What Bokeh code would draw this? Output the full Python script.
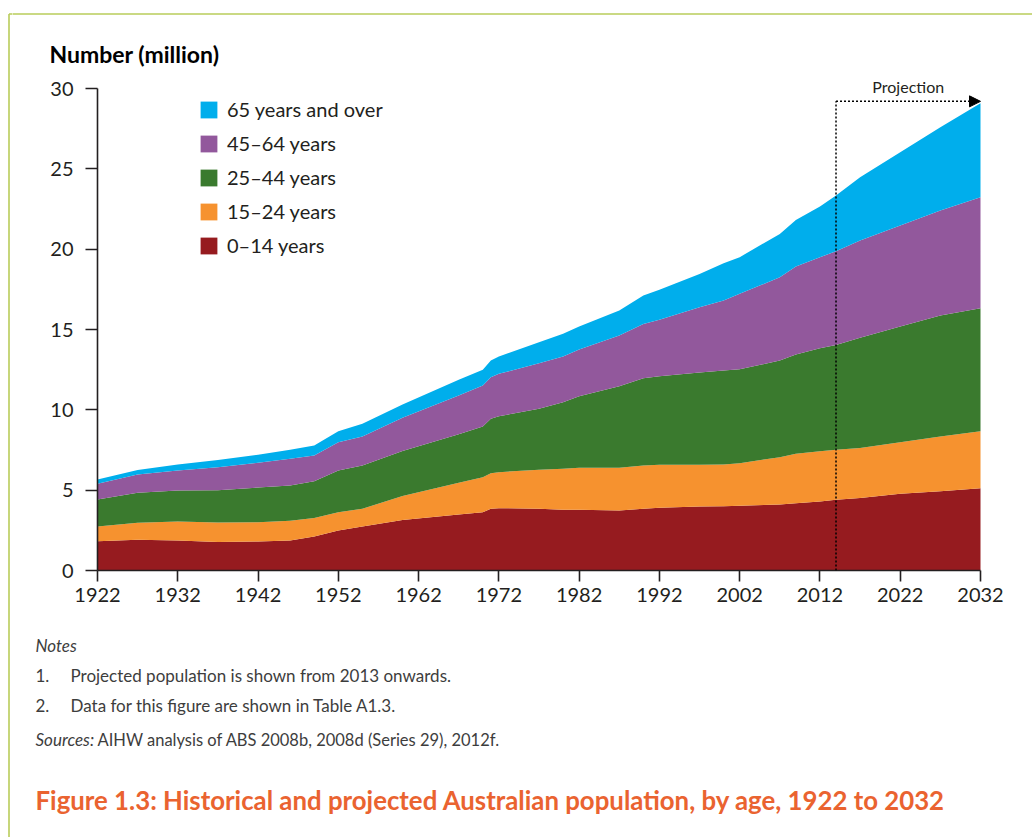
from bokeh.plotting import figure
from bokeh.layouts import row, column
from bokeh.models import (Range1d, FixedTicker, Legend, LegendItem, Label, Arrow,
                          NormalHead, ColumnDataSource)
from bokeh.embed import file_html
from bokeh.resources import INLINE

# ---------------- data (million persons) ----------------
years = [1922, 1927, 1932, 1937, 1942, 1946, 1949, 1952, 1955, 1960, 1967, 1970,
         1971, 1972, 1977, 1980, 1982, 1987, 1990, 1992, 1997, 2000, 2002, 2007,
         2009, 2012, 2014, 2017, 2022, 2027, 2032]
age_0_14 = [1.82, 1.91, 1.87, 1.78, 1.80, 1.87, 2.12, 2.49, 2.74, 3.15, 3.48, 3.63,
            3.84, 3.88, 3.84, 3.78, 3.78, 3.73, 3.84, 3.90, 3.98, 4.00, 4.03, 4.11,
            4.19, 4.29, 4.40, 4.52, 4.77, 4.94, 5.12]
age_15_24 = [0.92, 1.06, 1.18, 1.21, 1.21, 1.22, 1.14, 1.14, 1.10, 1.48, 1.98, 2.18,
             2.22, 2.24, 2.43, 2.55, 2.61, 2.66, 2.69, 2.68, 2.60, 2.60, 2.65, 2.94,
             3.07, 3.13, 3.11, 3.11, 3.21, 3.40, 3.55]
age_25_44 = [1.68, 1.87, 1.93, 2.01, 2.15, 2.20, 2.30, 2.59, 2.69, 2.80, 3.02, 3.15,
             3.38, 3.48, 3.79, 4.14, 4.46, 5.08, 5.44, 5.51, 5.74, 5.85, 5.84, 6.02,
             6.18, 6.41, 6.53, 6.85, 7.20, 7.53, 7.65]
age_45_64 = [0.98, 1.13, 1.24, 1.43, 1.54, 1.66, 1.60, 1.76, 1.81, 2.07, 2.41, 2.55,
             2.59, 2.64, 2.84, 2.85, 2.90, 3.15, 3.38, 3.51, 4.06, 4.35, 4.70, 5.18,
             5.48, 5.67, 5.83, 6.06, 6.29, 6.53, 6.91]
age_65_plus = [0.26, 0.28, 0.38, 0.44, 0.50, 0.56, 0.62, 0.69, 0.79, 0.83, 0.98, 0.98,
               1.04, 1.08, 1.31, 1.41, 1.43, 1.56, 1.76, 1.87, 2.08, 2.33, 2.28, 2.70,
               2.90, 3.15, 3.47, 3.93, 4.56, 5.19, 5.85]

series_keys = ["a0_14", "a15_24", "a25_44", "a45_64", "a65"]
series_labels = ["0\u201314 years", "15\u201324 years", "25\u201344 years",
                 "45\u201364 years", "65 years and over"]
series_colors = ["#961b1f", "#f6922f", "#3a7a2e", "#92589c", "#00aeec"]

x_ticks = list(range(1922, 2033, 10))
y_ticks = [0, 5, 10, 15, 20, 25, 30]
projection_start = 2014
projection_top = 29.2

src = ColumnDataSource(dict(year=years, a0_14=age_0_14, a15_24=age_15_24,
                            a25_44=age_25_44, a45_64=age_45_64, a65=age_65_plus))

FONT = "Lato"
TEXT = "#231f20"
NOTE = "#3d3d3d"
BORDER = "#b9cc5a"
TITLE_COLOR = "#ea6330"
BASE_SHIFT = 7        # correction between wanted baseline and drawn baseline

PAGE_W, PAGE_H = 1032, 837
STRIP_W = 12          # left strip holding the frame border
HEAD_H = 70           # header band
MAIN_H = 560          # chart band
FOOT_H = PAGE_H - HEAD_H - MAIN_H
CONTENT_W = PAGE_W - STRIP_W

# chart frame geometry in page pixels
FR_LEFT, FR_RIGHT_AXIS, FR_TOP, FR_BOTTOM_AXIS = 97, 980, 88, 570
px_per_year = (FR_RIGHT_AXIS - FR_LEFT) / (x_ticks[-1] - x_ticks[0])
px_per_unit = (FR_BOTTOM_AXIS - FR_TOP) / (y_ticks[-1] - y_ticks[0])


def no_align(f):
    try:
        f.frame_align = False
    except Exception:
        pass
    return f


def blank(width, height, xr, yr):
    f = figure(width=width, height=height, output_backend="svg", toolbar_location=None,
               x_range=Range1d(*xr), y_range=Range1d(*yr),
               x_axis_type=None, y_axis_type=None,
               min_border_left=0, min_border_right=0, min_border_top=0,
               min_border_bottom=0)
    f.outline_line_color = None
    f.grid.visible = False
    f.background_fill_color = "white"
    f.border_fill_color = "white"
    return no_align(f)


# ---------------- left strip with border line ----------------
strip = blank(STRIP_W, PAGE_H, (0, STRIP_W), (PAGE_H, 0))
strip.add_layout(Arrow(end=None, x_start=8.5, y_start=13.5, x_end=8.5, y_end=PAGE_H + 5,
                       line_color=BORDER, line_width=1.6))
strip.add_layout(Arrow(end=None, x_start=8.5, y_start=13.5, x_end=STRIP_W + 2, y_end=13.5,
                       line_color=BORDER, line_width=1.6))

# ---------------- header band ----------------
head = blank(CONTENT_W, HEAD_H, (STRIP_W, PAGE_W), (HEAD_H, 0))
head.add_layout(Arrow(end=None, x_start=STRIP_W - 2, y_start=13.5, x_end=PAGE_W + 2,
                      y_end=13.5, line_color=BORDER, line_width=1.6))
head.add_layout(Label(x=49, y=60 - BASE_SHIFT, text="Number (million)", text_font=FONT,
                      text_font_style="bold", text_font_size="23px",
                      text_baseline="alphabetic", text_color="black"))

# ---------------- chart band ----------------
x0 = x_ticks[0]
x_end = x0 + (PAGE_W - FR_LEFT) / px_per_year
y_top = (FR_BOTTOM_AXIS - HEAD_H) / px_per_unit
p = figure(width=CONTENT_W, height=MAIN_H, output_backend="svg", toolbar_location=None,
           x_range=Range1d(x0, x_end), y_range=Range1d(0, y_top),
           min_border_left=FR_LEFT - STRIP_W, min_border_right=0, min_border_top=0,
           min_border_bottom=MAIN_H - (FR_BOTTOM_AXIS - HEAD_H))
no_align(p)
p.outline_line_color = None
p.grid.visible = False
p.background_fill_color = "white"
p.border_fill_color = "white"

renderers = p.varea_stack(series_keys, x="year", source=src, color=series_colors)

for ax, ticks in ((p.xaxis[0], x_ticks), (p.yaxis[0], y_ticks)):
    ax.ticker = FixedTicker(ticks=ticks)
    ax.bounds = (ticks[0], ticks[-1])
    ax.axis_line_color = TEXT
    ax.axis_line_width = 1.6
    ax.major_tick_line_color = TEXT
    ax.major_tick_line_width = 1.6
    ax.major_tick_in = 0
    ax.minor_tick_line_color = None
    ax.major_label_text_font = FONT
    ax.major_label_text_font_size = "20px"
    ax.major_label_text_color = TEXT
p.xaxis.major_tick_out = 11
p.xaxis.major_label_standoff = 6
p.yaxis.major_tick_out = 12
p.yaxis.major_label_standoff = 12

items = [LegendItem(label=series_labels[i], renderers=[renderers[i]])
         for i in range(4, -1, -1)]
legend = Legend(items=items, location=(101, 313), orientation="vertical",
                glyph_width=21, glyph_height=21, label_height=21, spacing=10,
                label_standoff=8, padding=0, margin=0,
                border_line_color=None, background_fill_alpha=0,
                label_text_font=FONT, label_text_font_size="20px",
                label_text_color=TEXT)
p.add_layout(legend, "center")

# projection marker
p.add_layout(Arrow(end=None, x_start=projection_start, y_start=0,
                   x_end=projection_start, y_end=projection_top,
                   line_color="black", line_width=1.5, line_dash="2 2"))
p.add_layout(Arrow(end=NormalHead(size=11, fill_color="black", line_color="black"),
                   x_start=projection_start, y_start=projection_top,
                   x_end=x_ticks[-1], y_end=projection_top,
                   line_color="black", line_width=1.5, line_dash="2 2"))
p.add_layout(Label(x=(projection_start + x_ticks[-1]) / 2, y=projection_top,
                   y_offset=8 + BASE_SHIFT,
                   text="Projection", text_align="center", text_baseline="alphabetic",
                   text_font=FONT, text_font_size="16px", text_color=TEXT))

# ---------------- footer band ----------------
foot_top = HEAD_H + MAIN_H
foot = blank(CONTENT_W, FOOT_H, (STRIP_W, PAGE_W), (PAGE_H, foot_top))


def note(x, y, text, style="normal", size="17px", color=NOTE):
    foot.add_layout(Label(x=x, y=y - BASE_SHIFT, text=text, text_font=FONT,
                          text_font_style=style, text_font_size=size,
                          text_baseline="alphabetic", text_color=color))


note(35, 652, "Notes", style="italic")
note(35, 682, "1.")
note(70, 682, "Projected population is shown from 2013 onwards.")
note(35, 712, "2.")
note(70, 712, "Data for this figure are shown in Table A1.3.")
note(35, 746, "Sources:", style="italic")
note(97, 746, "AIHW analysis of ABS 2008b, 2008d (Series 29), 2012f.", size="16.5px")
note(35, 806, "Figure 1.3: Historical and projected Australian population, by age, 1922 to 2032",
     style="bold", size="25.8px", color=TITLE_COLOR)

layout = row(strip, column(head, p, foot))
open("out.html", "w").write(file_html(layout, INLINE))
